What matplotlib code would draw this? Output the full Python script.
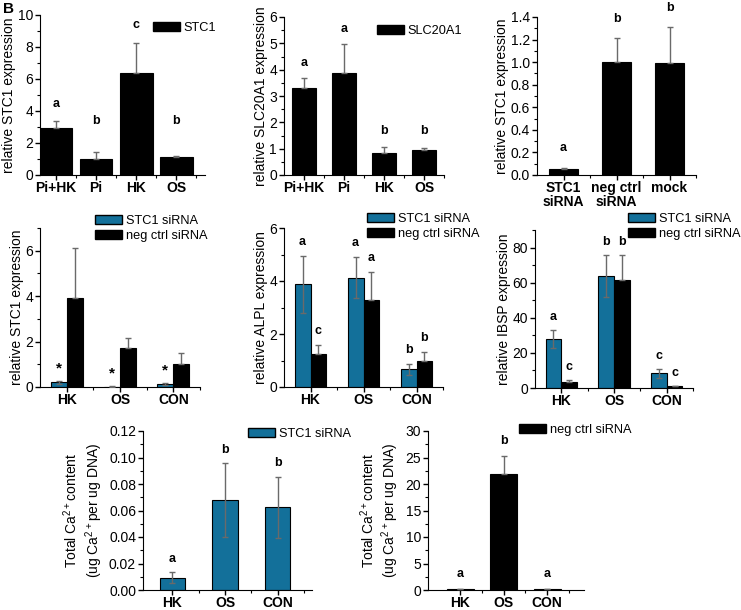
import matplotlib
matplotlib.use('Agg')
import matplotlib.pyplot as plt
from matplotlib.ticker import MultipleLocator, FixedLocator, FormatStrFormatter
from matplotlib.patches import Patch
import numpy as np

plt.rcParams['font.family'] = ['Liberation Sans', 'DejaVu Sans']
plt.rcParams['mathtext.default'] = 'regular'

# ---- data ----
# top row
groups_top = ['Pi+HK', 'Pi', 'HK', 'OS']
stc1_top = [2.95, 1.02, 6.4, 1.12]
stc1_top_err = [0.4, 0.4, 1.85, 0.08]
stc1_top_sig = ['a', 'b', 'c', 'b']

slc_top = [3.32, 3.88, 0.85, 0.95]
slc_top_err = [0.38, 1.1, 0.2, 0.07]
slc_top_sig = ['a', 'a', 'b', 'b']

groups_kd = ['STC1\nsiRNA', 'neg ctrl\nsiRNA', 'mock']
stc1_kd = [0.053, 1.0, 0.995]
stc1_kd_err = [0.013, 0.215, 0.315]
stc1_kd_sig = ['a', 'b', 'b']

# middle row (STC1 siRNA / neg ctrl siRNA)
groups_mid = ['HK', 'OS', 'CON']
stc1_si = [0.2, 0.02, 0.13]
stc1_si_err = [0.08, 0.01, 0.03]
stc1_neg = [3.9, 1.7, 1.0]
stc1_neg_err = [2.2, 0.45, 0.48]

alpl_si = [3.87, 4.13, 0.67]
alpl_si_err = [1.07, 0.78, 0.21]
alpl_neg = [1.26, 3.27, 1.0]
alpl_neg_err = [0.34, 1.07, 0.33]
alpl_si_sig = ['a', 'a', 'b']
alpl_neg_sig = ['c', 'a', 'b']

ibsp_si = [28.0, 64.0, 8.3]
ibsp_si_err = [5.0, 12.0, 2.6]
ibsp_neg = [3.3, 61.5, 0.9]
ibsp_neg_err = [1.3, 14.5, 0.3]
ibsp_si_sig = ['a', 'b', 'c']
ibsp_neg_sig = ['c', 'b', 'c']

# bottom row (calcium)
ca_si = [0.0093, 0.068, 0.0625]
ca_si_err = [0.004, 0.028, 0.023]
ca_si_sig = ['a', 'b', 'b']
ca_neg = [0.1, 21.9, 0.1]
ca_neg_err = [0.0, 3.3, 0.0]
ca_neg_sig = ['a', 'b', 'a']

W, H = 741, 610
BLUE = '#13709a'
ERR = '#6a6a6a'

fig = plt.figure(figsize=(W / 100, H / 100), dpi=100)


def add_ax(l, t, r, b):
    return fig.add_axes([l / W, 1 - b / H, (r - l) / W, (b - t) / H])


def style(ax, xlim, ylim, major, minor, labels, ylabel):
    ax.set_xlim(*xlim)
    ax.set_ylim(*ylim)
    for s in ['top', 'right']:
        ax.spines[s].set_visible(False)
    ax.yaxis.set_major_locator(MultipleLocator(major))
    ax.yaxis.set_minor_locator(MultipleLocator(minor))
    n = len(labels)
    ax.set_xticks(np.arange(1, n + 1))
    ax.set_xticklabels(labels, fontweight='bold', fontsize=10, linespacing=1.0)
    ax.xaxis.set_minor_locator(FixedLocator(np.arange(1.5, n + 0.6, 1.0)))
    ax.tick_params(axis='both', which='major', direction='out', length=3.5, width=1, labelsize=10)
    ax.tick_params(axis='y', which='major', pad=1.5)
    ax.tick_params(axis='x', which='major', pad=1)
    ax.tick_params(axis='both', which='minor', direction='out', length=2, width=0.8)
    ax.set_ylabel(ylabel, fontsize=10, labelpad=1)


def bars(ax, x, vals, errs, color, width, upper_only=False):
    ax.bar(x, vals, width=width, color=color, edgecolor='black', linewidth=0.8, zorder=2)
    yerr = [np.zeros(len(errs)), errs] if upper_only else errs
    ax.errorbar(x, vals, yerr=yerr, fmt='none', ecolor=ERR, elinewidth=1,
                capsize=2.5, capthick=1, zorder=3)


def sig(ax, x, vals, errs, marks, pad, floor=0, size=9):
    for xi, v, e, m in zip(x, vals, errs, marks):
        y = max(v + e + pad, floor)
        ax.text(xi, y, m, ha='center', va='center', fontweight='bold',
                fontsize=size, clip_on=False)


def legend(ax, handles, x, y):
    ax.legend(handles=handles, loc='upper left', bbox_to_anchor=(x / W, 1 - y / H),
              bbox_transform=fig.transFigure, frameon=False, fontsize=9.2,
              handlelength=2.1, handleheight=0.7, handletextpad=0.3,
              labelspacing=0.2, borderpad=0, borderaxespad=0)


black_h = lambda lab: Patch(facecolor='black', edgecolor='black', label=lab)
blue_h = lambda lab: Patch(facecolor=BLUE, edgecolor='black', label=lab)

# panel letter
fig.text(3 / W, 1 - 2 / H, 'B', fontsize=11, fontweight='bold', va='top', ha='left')

# ---- top row ----
ax = add_ax(40, 15, 205, 175)
x = np.arange(1, 5)
bars(ax, x, stc1_top, stc1_top_err, 'black', 0.82, upper_only=True)
sig(ax, x, stc1_top, stc1_top_err, stc1_top_sig, 1.1, floor=3.4)
style(ax, (0.6, 4.72), (0, 10), 2, 1, groups_top, 'relative STC1 expression')
legend(ax, [black_h('STC1')], 153, 22)

ax = add_ax(284, 17, 444, 175)
bars(ax, x, slc_top, slc_top_err, 'black', 0.6, upper_only=True)
sig(ax, x, slc_top, slc_top_err, slc_top_sig, 0.55, floor=1.67)
style(ax, (0.5, 4.5), (0, 6), 1, 0.5, groups_top, 'relative SLC20A1 expression')
legend(ax, [black_h('SLC20A1')], 377, 25)

ax = add_ax(537, 17, 696, 175)
x3 = np.arange(1, 4)
bars(ax, x3, stc1_kd, stc1_kd_err, 'black', 0.53, upper_only=True)
sig(ax, x3, stc1_kd, stc1_kd_err, stc1_kd_sig, 0.17)
style(ax, (0.5, 3.5), (0, 1.4), 0.2, 0.1, groups_kd, 'relative STC1 expression')
ax.yaxis.set_major_formatter(FormatStrFormatter('%.1f'))

# ---- middle row ----
off = 0.15
bw = 0.3

ax = add_ax(40, 228, 200, 387)
bars(ax, x3 - off, stc1_si, stc1_si_err, BLUE, bw)
bars(ax, x3 + off, stc1_neg, stc1_neg_err, 'black', bw, upper_only=True)
sig(ax, x3 - off, stc1_si, stc1_si_err, ['*'] * 3, 0.55, size=11)
style(ax, (0.5, 3.5), (0, 7), 2, 1, groups_mid, 'relative STC1 expression')
legend(ax, [blue_h('STC1 siRNA'), black_h('neg ctrl siRNA')], 95, 215)

ax = add_ax(284, 228, 443, 387)
bars(ax, x3 - off, alpl_si, alpl_si_err, BLUE, bw)
bars(ax, x3 + off, alpl_neg, alpl_neg_err, 'black', bw, upper_only=True)
sig(ax, x3 - off, alpl_si, alpl_si_err, alpl_si_sig, 0.53)
sig(ax, x3 + off, alpl_neg, alpl_neg_err, alpl_neg_sig, 0.53)
style(ax, (0.5, 3.5), (0, 6), 2, 1, groups_mid, 'relative ALPL expression')
legend(ax, [blue_h('STC1 siRNA'), black_h('neg ctrl siRNA')], 367, 213)

ax = add_ax(535, 230, 693, 388)
bars(ax, x3 - off, ibsp_si, ibsp_si_err, BLUE, bw)
bars(ax, x3 + off, ibsp_neg, ibsp_neg_err, 'black', bw, upper_only=True)
sig(ax, x3 - off, ibsp_si, ibsp_si_err, ibsp_si_sig, 7.3)
sig(ax, x3 + off, ibsp_neg, ibsp_neg_err, ibsp_neg_sig, 7.3)
style(ax, (0.5, 3.5), (0, 90), 20, 10, groups_mid, 'relative IBSP expression')
legend(ax, [blue_h('STC1 siRNA'), black_h('neg ctrl siRNA')], 628, 213)

# ---- bottom row ----
ca_label = 'Total Ca$^{2+}$content\n(ug Ca$^{2+}$per ug DNA)'

ax = add_ax(143, 431, 312, 590)
bars(ax, x3, ca_si, ca_si_err, BLUE, 0.48)
sig(ax, x3, ca_si, ca_si_err, ca_si_sig, 0.01)
style(ax, (0.44, 3.65), (0, 0.12), 0.02, 0.01, groups_mid, ca_label)
ax.yaxis.set_major_formatter(FormatStrFormatter('%.2f'))
ax.yaxis.labelpad = 3
legend(ax, [blue_h('STC1 siRNA')], 248, 428)

ax = add_ax(428, 431, 584, 590)
bars(ax, x3, ca_neg, ca_neg_err, 'black', 0.62, upper_only=True)
sig(ax, x3, ca_neg, ca_neg_err, ca_neg_sig, 2.9)
style(ax, (0.26, 3.85), (0, 30), 5, 2.5, groups_mid, ca_label)
ax.yaxis.labelpad = 3
legend(ax, [black_h('neg ctrl siRNA')], 519, 424)

fig.savefig('out.png', dpi=100)
